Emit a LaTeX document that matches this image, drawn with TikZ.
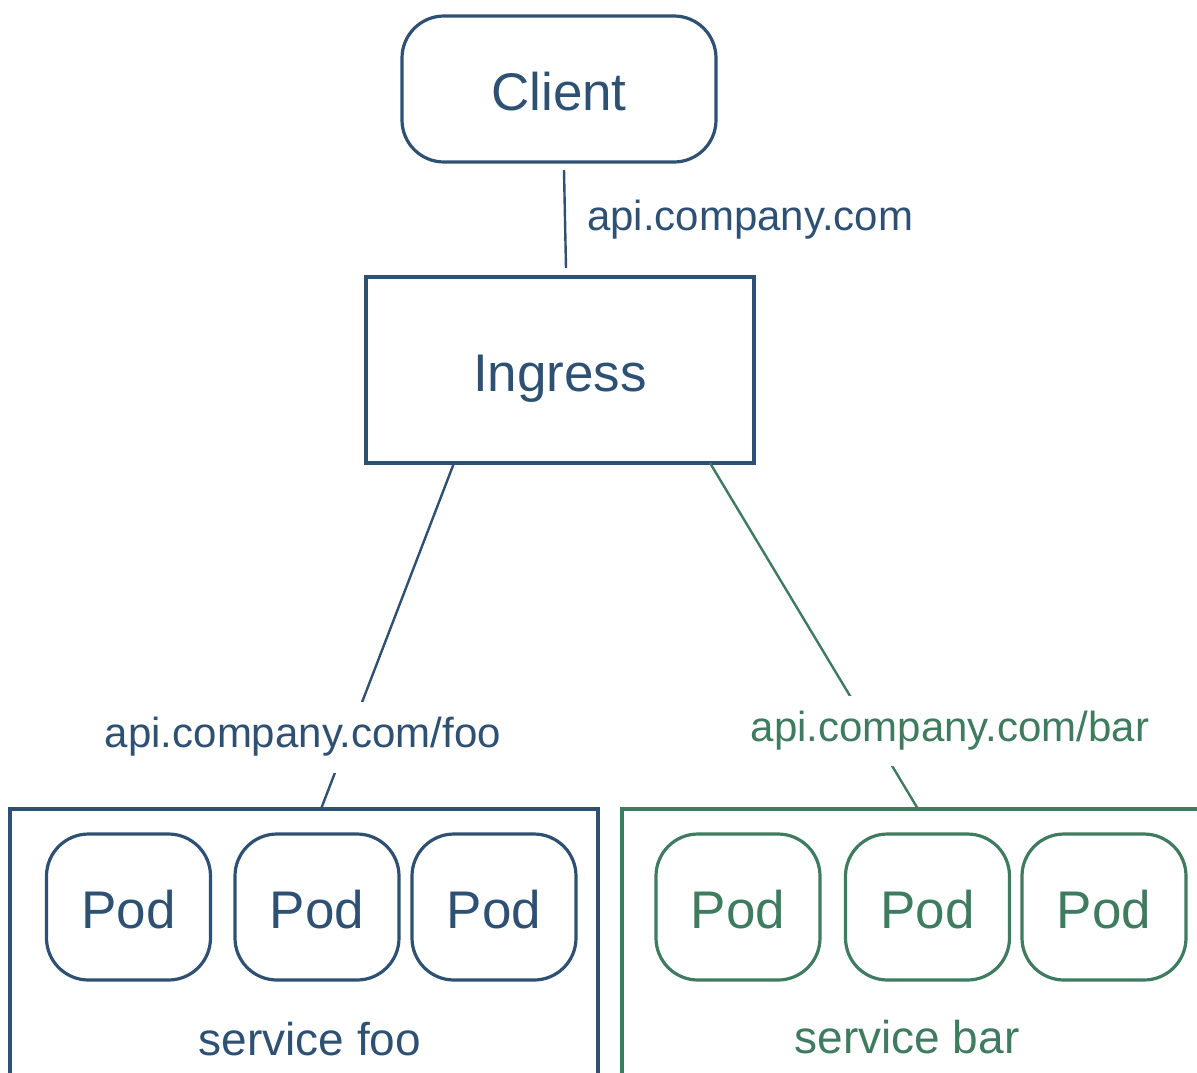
\documentclass[tikz,border=0pt]{standalone}
\usepackage{fontspec}
\setmainfont{Liberation Sans}
\definecolor{kblue}{HTML}{2E5173}
\definecolor{kgreen}{HTML}{3E7B5F}
\begin{document}
\begin{tikzpicture}[x=1pt,y=-1pt,
  box/.style={draw, line width=3.2pt, inner sep=0pt, outer sep=0pt},
  roundbox/.style={box, rounded corners=42pt},
  pod/.style={roundbox, minimum width=164pt, minimum height=146pt, big},
  big/.style={font=\fontsize{53}{60}\selectfont, text height=42.5pt, text depth=0pt},
  lab/.style={font=\fontsize{42}{48}\selectfont},
  svc/.style={font=\fontsize{46}{52}\selectfont},
  conn/.style={line width=2.4pt}]
\useasboundingbox (0,0) rectangle (1197,1072);
% top
\node[roundbox, kblue, minimum width=314pt, minimum height=146pt, big] (client) at (559,89) {Client};
\node[box, kblue, minimum width=388pt, minimum height=186pt, big] (ingress) at (560,370) {Ingress};
\draw[conn, kblue] ([xshift=5pt,yshift=-8pt]client.south) -- ([xshift=6pt,yshift=9pt]ingress.north);
\node[lab, kblue, anchor=west, inner sep=0pt] (lab0) at (587,220) {api.company.com};
% service boxes
\node[box, kblue, minimum width=588pt, minimum height=291pt] (foo) at (304,954.5) {};
\node[box, kgreen, minimum width=638pt, minimum height=291pt] (bar) at (941,954.5) {};
% connectors
\draw[conn, kblue] ([xshift=-106pt]ingress.south) -- ([xshift=17pt]foo.north);
\draw[conn, kgreen] ([xshift=150pt]ingress.south) -- ([xshift=-23pt]bar.north);
\node[lab, kblue, fill=white, inner xsep=2pt, inner ysep=0pt, minimum height=71pt] (foolab) at (303,737) {api.company.com/foo};
\node[lab, kgreen, fill=white, inner xsep=2pt, inner ysep=0pt, minimum height=70pt] (barlab) at (950,731) {api.company.com/bar};
% pods
\node[pod, kblue] (fp1) at (128.5,907) {Pod};
\node[pod, kblue] (fp2) at (317,907) {Pod};
\node[pod, kblue] (fp3) at (494,907) {Pod};
\node[pod, kgreen] (bp1) at (738,907) {Pod};
\node[pod, kgreen] (bp2) at (927.5,907) {Pod};
\node[pod, kgreen] (bp3) at (1104,907) {Pod};
% service labels
\node[svc, kblue] (foot) at (310,1039) {service foo};
\node[svc, kgreen] (bart) at (907,1037) {service bar};
\end{tikzpicture}
\end{document}
